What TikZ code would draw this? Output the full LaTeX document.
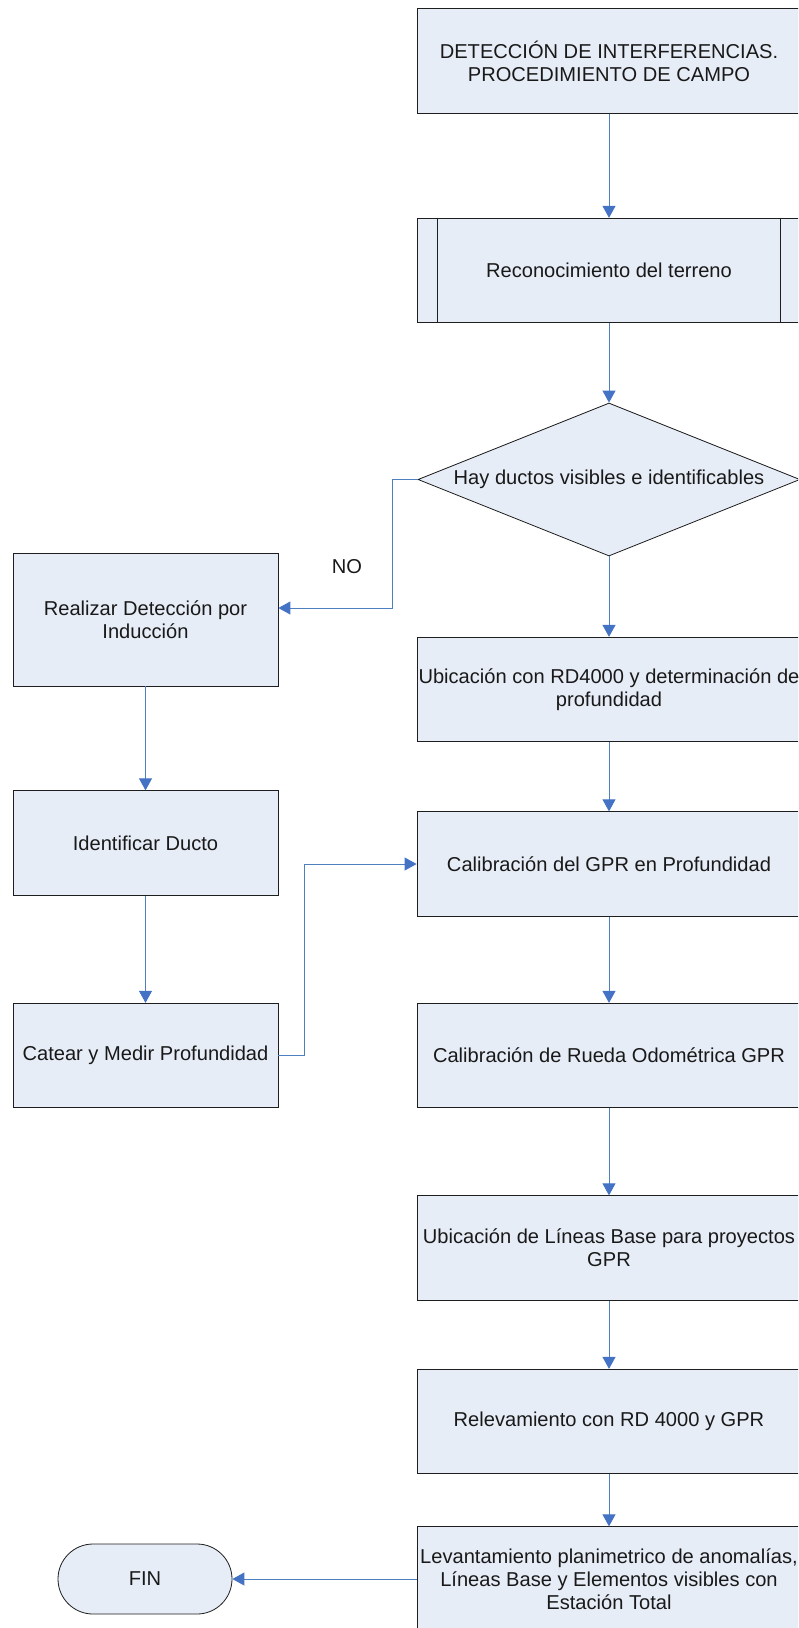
\documentclass[tikz,border=0pt]{standalone}
\usepackage{fontspec}
\setmainfont{Liberation Sans}
\usetikzlibrary{arrows.meta,shapes.geometric,shapes.misc}
\definecolor{boxfill}{RGB}{231,237,247}
\definecolor{boxline}{RGB}{30,30,30}
\definecolor{link}{RGB}{78,128,192}
\definecolor{tip}{RGB}{68,114,196}
\tikzset{
  every node/.style={font=\fontsize{20.1}{23.2}\selectfont, text=black!90},
  stepbox/.style={draw=boxline, line width=0.8pt, fill=boxfill, rectangle,
    minimum width=384pt, minimum height=104.5pt, inner sep=0pt, align=center},
  sidebox/.style={draw=boxline, line width=0.8pt, fill=boxfill, rectangle,
    minimum width=265pt, minimum height=104.5pt, inner sep=0pt, align=center},
  decision/.style={draw=boxline, line width=0.8pt, fill=boxfill, diamond,
    minimum width=382pt, minimum height=153pt, aspect=2.5, inner sep=0pt},
  endbox/.style={draw=boxline, line width=0.8pt, fill=boxfill,
    rounded rectangle, minimum width=174pt, minimum height=70pt, inner sep=0pt},
  flow/.style={draw=link, line width=0.9pt,
    -{Triangle[width=13pt,length=12pt,fill=tip,color=tip]}},
  tag/.style={inner sep=0pt}
}
\begin{document}
\begin{tikzpicture}[x=1pt,y=-1pt]
  \useasboundingbox (0,0) rectangle (798,1628);
  \clip (0,0) rectangle (798,1628);

  % right-hand column
  \node[stepbox] (inicio) at (609,61) {DETECCIÓN DE INTERFERENCIAS.\\PROCEDIMIENTO DE CAMPO};
  \node[stepbox] (recon) at (609,270.5) {Reconocimiento del terreno};
  \draw[boxline, line width=0.8pt] ([xshift=21pt]recon.north west) -- ([xshift=21pt]recon.south west);
  \draw[boxline, line width=0.8pt] ([xshift=-21pt]recon.north east) -- ([xshift=-21pt]recon.south east);
  \node[decision] (hay) at (609,479.5) {Hay ductos visibles e identificables};
  \node[stepbox] (rd) at (609,689.5) {Ubicación con RD4000 y determinación de\\profundidad};
  \node[stepbox] (calgpr) at (609,864) {Calibración del GPR en Profundidad};
  \node[stepbox] (rueda) at (609,1055.5) {Calibración de Rueda Odométrica GPR};
  \node[stepbox] (lineas) at (609,1248) {Ubicación de Líneas Base para proyectos\\GPR};
  \node[stepbox] (relev) at (609,1421.5) {Relevamiento con RD 4000 y GPR};
  \node[stepbox] (levant) at (609,1579) {Levantamiento planimetrico de anomalías,\\Líneas Base y Elementos visibles con\\Estación Total};

  % left-hand column
  \node[sidebox, minimum height=133pt] (induc) at (145.5,619.5) {Realizar Detección por\\Inducción};
  \node[sidebox] (ident) at (145.5,843) {Identificar Ducto};
  \node[sidebox] (catear) at (145.5,1055.5) {Catear y Medir Profundidad};
  \node[endbox] (fin) at (145,1579) {FIN};

  \node[tag] (no) at (347,567) {NO};

  % connectors
  \draw[flow] (inicio) -- (recon);
  \draw[flow] (recon) -- (hay);
  \draw[flow] (hay) -- (rd);
  \draw[flow] (rd) -- (calgpr);
  \draw[flow] (calgpr) -- (rueda);
  \draw[flow] (rueda) -- (lineas);
  \draw[flow] (lineas) -- (relev);
  \draw[flow] (relev) -- (levant);
  \draw[flow] (levant.west |- fin.east) -- (fin.east);

  \coordinate (noturn) at (392,608);
  \draw[flow] (hay.west) -| (noturn) -- (induc.east |- noturn);
  \draw[flow] (induc) -- (ident);
  \draw[flow] (ident) -- (catear);
  \draw[flow] (catear.east) -- ++(26,0) |- (calgpr.west);
\end{tikzpicture}
\end{document}
